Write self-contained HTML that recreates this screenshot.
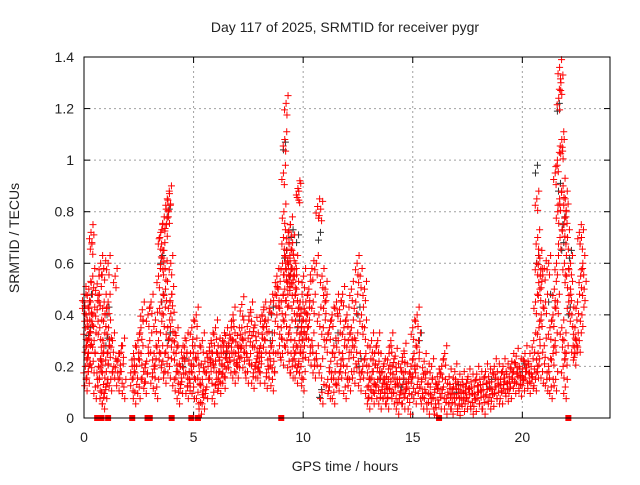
<!DOCTYPE html>
<html><head><meta charset="utf-8"><style>
body{margin:0;background:#fff;}
svg text{font-family:"Liberation Sans",sans-serif;fill:#222;}
</style></head><body>
<svg id="c" width="640" height="480" xmlns="http://www.w3.org/2000/svg"></svg>
<script>
const titleText = "Day 117 of 2025, SRMTID for receiver pygr";
const xTicks = [0,5,10,15,20];
const yTicks = [0,0.2,0.4,0.6,0.8,1,1.2,1.4];
const yTickLabels = ["0","0.2","0.4","0.6","0.8","1","1.2","1.4"];
const redTimes = [0,0.1,0.2,0.3,0.4,0.6,0.7,0.8,0.9,1.0,1.1,1.3,1.5,1.7,2.2,2.4,2.6,2.8,3.0,3.2,3.4,3.5,3.6,3.7,3.8,3.9,4.0,4.2,4.4,4.6,4.8,5.0,5.2,5.4,5.6,5.8,6.0,6.2,6.4,6.6,6.8,7.0,7.2,7.4,7.6,7.8,8.0,8.2,8.4,8.6,8.8,9.0,9.1,9.2,9.3,9.4,9.5,9.6,9.7,9.8,9.9,10.0,10.2,10.4,10.6,10.8,11.0,11.2,11.4,11.6,11.8,12.0,12.2,12.4,12.6,12.8,13.0,13.2,13.4,13.6,13.8,14.0,14.2,14.4,14.6,14.8,15.0,15.2,15.4,15.6,15.8,16.0,16.2,16.4,16.6,16.8,17.0,17.2,17.4,17.6,17.8,18.0,18.2,18.4,18.6,18.8,19.0,19.2,19.4,19.6,19.8,20.0,20.2,20.4,20.6,20.7,20.8,21.0,21.2,21.4,21.5,21.6,21.7,21.8,21.9,22.0,22.2,22.4,22.6,22.7];
const redVals = [[.45,.35,.28,.48,.20],[.40,.30,.50,.15],[.25,.38,.72,.18],[.33,.68,.22,.45],[.55,.30,.12,.40],[.42,.20,.35,.52],[.48,.60,.25,.15],[.10,.30,.45,.22],[.08,.40,.18,.58],[.12,.25,.35],[.60,.28,.15,.45],[.30,.20,.55],[.22,.15,.25],[.18,.28,.12],[.15,.25,.10,.20],[.20,.30,.12],[.35,.42,.18,.25],[.14,.22,.40],[.30,.45,.16],[.20,.38,.12,.25],[.55,.70,.45,.30],[.72,.62,.40,.25],[.65,.78,.50,.22],[.58,.75,.35,.18],[.85,.80,.45,.28],[.87,.60,.38,.20],[.48,.30,.15],[.25,.18,.10,.32],[.20,.14,.28],[.22,.30,.12],[.15,.25,.35,.18],[.20,.28,.40,.12],[.10,.18,.06,.25],[.15,.08,.22,.30],[.12,.20,.26],[.18,.25,.10,.30],[.22,.15,.28,.35],[.18,.25,.30,.14],[.20,.32,.26,.16],[.28,.22,.35],[.30,.18,.25,.40],[.32,.24,.28,.20],[.35,.30,.22,.44],[.28,.18,.38],[.25,.32,.16,.42],[.20,.30,.24,.36],[.18,.28,.40,.22],[.42,.30,.16,.35],[.38,.25,.45,.20],[.30,.22,.48,.15],[.40,.50,.28,.55],[.45,.60,.80,.35,.25],[.95,1.08,1.22,.70,.50],[.58,.65,.72,.40,.30],[.60,.55,.75,.48,.22],[.62,.52,.68,.35],[.58,.45,.30,.20],[.55,.60,.40,.25],[.50,.89,.30,.18],[.88,.45,.35,.22],[.42,.30,.55,.20],[.38,.28,.45,.15],[.35,.50,.25,.40],[.30,.45,.20,.58],[.60,.82,.40,.25],[.81,.55,.35,.20,.10],[.45,.30,.15,.50],[.35,.22,.40,.12],[.28,.18,.45,.10],[.30,.42,.20,.15],[.25,.35,.12,.48],[.20,.30,.15,.40],[.35,.28,.18,.50],[.45,.60,.22,.30],[.55,.40,.20,.15],[.35,.25,.12,.50],[.20,.15,.30,.08],[.18,.25,.12,.10],[.15,.22,.08,.30],[.12,.20,.10,.18],[.16,.08,.25,.12],[.14,.20,.10,.30],[.12,.18,.06,.24],[.15,.10,.22],[.08,.18,.12,.26],[.14,.06,.20],[.16,.25,.10,.35],[.40,.30,.12,.20],[.14,.08,.22],[.10,.18,.06],[.12,.20,.08],[.10,.04,.16],[.14,.08,.20],[.12,.25,.06],[.10,.16,.08],[.06,.12,.18],[.08,.14,.05],[.10,.15,.07],[.12,.08,.16],[.09,.14,.06],[.12,.07,.17],[.10,.15,.08],[.13,.06,.18],[.11,.16,.08],[.14,.09,.20],[.12,.18,.10],[.15,.10,.20],[.14,.18,.11],[.16,.12,.22],[.18,.14,.24],[.16,.20,.13],[.19,.15,.25],[.18,.22,.14],[.20,.16,.30],[.45,.60,.25,.15,.85],[.70,.35,.55,.20],[.50,.40,.18,.62],[.28,.45,.15,.58],[.20,.35,.12,.60],[.25,.50,.15,.40],[.30,.60,.80,.95],[1.00,1.24,.70,.45],[1.36,1.30,1.05,.85],[1.08,.90,.60,.35,.20],[.75,.85,.55,.30,.12],[.80,.70,.45,.25],[.60,.40,.28,.50],[.35,.30,.45,.25],[.72,.55,.40,.30],[.70,.60,.50]];
const blackTimes = [0.2,1.0,3.5,3.8,4.5,6.5,8.5,9.1,9.4,9.7,10.7,11.5,12.5,13.5,14.5,15.3,17.0,18.5,20.0,20.6,21.2,21.6,21.8,22.1];
const blackVals = [[.32,.45],[.28,.40],[.60,.45],[.78,.30],[.20],[.25],[.30,.40],[1.04,.62],[.55,.70],[.68,.35],[.69,.08],[.30],[.40,.20],[.15],[.12],[.30],[.10],[.12],[.18],[.95,.60],[.45],[1.19,.88],[.65,.75],[.40,.62]];
const squareTimes = [0.6,0.7,0.8,1.1,2.2,2.9,3.0,4.0,4.9,5.2,9.0,16.2,22.1];

const X0=84,X1=610,Y0=418,Y1=57,XMAX=24,YMAX=1.4;
const xs=t=>X0+(X1-X0)*t/XMAX;
const ys=v=>Y0-(Y0-Y1)*v/YMAX;
const svg=document.getElementById('c');
const NS="http://www.w3.org/2000/svg";
function mk(tag,attrs){const e=document.createElementNS(NS,tag);for(const k in attrs)e.setAttribute(k,attrs[k]);svg.appendChild(e);return e;}

yTicks.forEach((v,i)=>{
  if(v>0&&v<YMAX){const g=mk('line',{x1:X0,x2:X1,y1:ys(v),y2:ys(v),stroke:'#a0a0a0','stroke-dasharray':'2,3','stroke-width':1});
  
  }
  const t=mk('text',{x:X0-10,y:ys(v)+5,'text-anchor':'end','font-size':14});
  t.textContent=yTickLabels[i];
  
  
  mk('line',{x1:X0,x2:X0+6,y1:ys(v),y2:ys(v),stroke:'#000'});
  mk('line',{x1:X1,x2:X1-6,y1:ys(v),y2:ys(v),stroke:'#000'});
});
xTicks.forEach(v=>{
  if(v>0){const g=mk('line',{x1:xs(v),x2:xs(v),y1:Y0,y2:Y1,stroke:'#a0a0a0','stroke-dasharray':'2,3','stroke-width':1});
  
  }
  const t=mk('text',{x:xs(v),y:Y0+24,'text-anchor':'middle','font-size':14});
  t.textContent=String(v);
  
  
  mk('line',{x1:xs(v),x2:xs(v),y1:Y0,y2:Y0-6,stroke:'#000'});
  mk('line',{x1:xs(v),x2:xs(v),y1:Y1,y2:Y1+6,stroke:'#000'});
});

function plus(t,v,color,name){
  const x=xs(t),y=ys(v);
  const p=mk('path',{d:`M${x-3.5},${y}H${x+3.5}M${x},${y-3.5}V${y+3.5}`,stroke:color,'stroke-width':1,fill:'none'});
  
  
}
// each sample drawn as a small cluster to mimic the dense 30-s sampling
const clusterDx=[0,0.09,-0.07,0.04];
const clusterDy=[0,0.03,-0.025,-0.045];
blackTimes.forEach((t,i)=>blackVals[i].forEach((v,j)=>{for(let k=0;k<2;k++)plus(t+j*0.05+clusterDx[k],Math.max(0.01,v+clusterDy[k]),'#333','black-point');}));
redTimes.forEach((t,i)=>redVals[i].forEach((v,j)=>{for(let k=0;k<4;k++)plus(t+(j%3)*0.06+clusterDx[k],Math.max(0.01,v+clusterDy[k]*(k===0?0:1)),'#ff0000','red-point');}));
squareTimes.forEach(t=>{
  const r=mk('rect',{x:xs(t)-3,y:Y0-3,width:6,height:6,fill:'#ff0000'});
  
  
});

const f=mk('rect',{x:X0,y:Y1,width:X1-X0,height:Y0-Y1,fill:'none',stroke:'#000','stroke-width':1});


const tt=mk('text',{x:345,y:32,'text-anchor':'middle','font-size':14});
tt.textContent=titleText;


const xt=mk('text',{x:345,y:471,'text-anchor':'middle','font-size':14});
xt.textContent="GPS time / hours";


const yt=mk('text',{x:0,y:0,'text-anchor':'middle','font-size':14,transform:'translate(19,238) rotate(-90)'});
yt.textContent="SRMTID / TECUs";


</script>
</body></html>
